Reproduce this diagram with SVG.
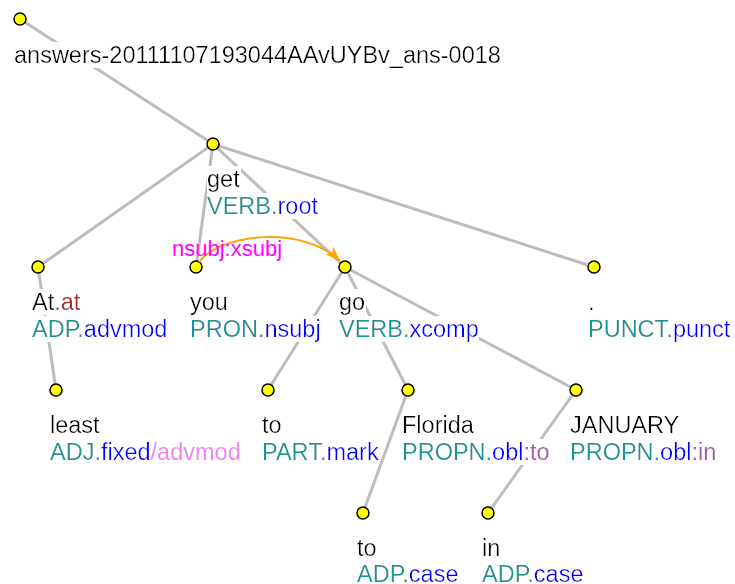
<svg xmlns="http://www.w3.org/2000/svg" width="735" height="584" viewBox="0 0 735 584">
<style>
  .edge { stroke: #bdbdbd; stroke-width: 3; fill: none; }
  .node circle { fill: #ffff00; stroke: #000; stroke-width: 1.5; }
  text { font-family: "Liberation Sans", Arial, sans-serif; font-size: 23.5px; fill: #000; }
  .lbl { filter: url(#bg); }
  .pos { fill: #139393; }
  .rel { fill: #0000ff; }
  .lem { fill: #a52a2a; }
  .sub { fill: #a05aaa; }
  .enh { fill: #ee82ee; }
  .arc { stroke: #ffa500; stroke-width: 2; fill: none; }
  .arclbl { fill: #ff00ff; font-size: 22px; }
</style>
<defs>
  <filter id="bg" x="0" y="0" width="1" height="1">
    <feFlood flood-color="#ffffff" result="w"/>
    <feMerge><feMergeNode in="w"/><feMergeNode in="SourceGraphic"/></feMerge>
  </filter>
  <marker id="arrow" viewBox="0 0 15 11" refX="15" refY="5.5" markerWidth="15" markerHeight="11" markerUnits="userSpaceOnUse" orient="auto">
    <path d="M0,0 L15,5.5 L0,11 L4,5.5 Z" fill="#ffa500"/>
  </marker>
</defs>
<g id="edges">
  <line class="edge" x1="20" y1="19" x2="213" y2="144"/>
  <line class="edge" x1="213" y1="144" x2="38" y2="267"/>
  <line class="edge" x1="213" y1="144" x2="196" y2="267"/>
  <line class="edge" x1="213" y1="144" x2="345" y2="267"/>
  <line class="edge" x1="213" y1="144" x2="594" y2="267"/>
  <line class="edge" x1="38" y1="267" x2="56" y2="390"/>
  <line class="edge" x1="345" y1="267" x2="268" y2="390"/>
  <line class="edge" x1="345" y1="267" x2="408" y2="390"/>
  <line class="edge" x1="345" y1="267" x2="576" y2="390"/>
  <line class="edge" x1="408" y1="390" x2="363" y2="513"/>
  <line class="edge" x1="576" y1="390" x2="488" y2="513"/>
</g>
<g id="n-root" class="node">
  <text class="lbl" x="14" y="63">answers-20111107193044AAvUYBv_ans-0018</text>
  <circle cx="20" cy="19" r="6"/>
</g>
<g id="n-get" class="node">
  <text class="lbl" x="207" y="187">get</text>
  <text class="lbl" x="207" y="214"><tspan class="pos">VERB.</tspan><tspan class="rel">root</tspan></text>
  <circle cx="213" cy="144" r="6"/>
</g>
<g id="n-at" class="node">
  <text class="lbl" x="32" y="310">At<tspan class="lem">.at</tspan></text>
  <text class="lbl" x="32" y="337"><tspan class="pos">ADP.</tspan><tspan class="rel">advmod</tspan></text>
  <circle cx="38" cy="267" r="6"/>
</g>
<g id="n-you" class="node">
  <text class="lbl" x="190" y="310">you</text>
  <text class="lbl" x="190" y="337"><tspan class="pos">PRON.</tspan><tspan class="rel">nsubj</tspan></text>
  <circle cx="196" cy="267" r="6"/>
</g>
<g id="n-go" class="node">
  <text class="lbl" x="339" y="310">go</text>
  <text class="lbl" x="339" y="337"><tspan class="pos">VERB.</tspan><tspan class="rel">xcomp</tspan></text>
  <circle cx="345" cy="267" r="6"/>
</g>
<g id="n-punct" class="node">
  <text class="lbl" x="588" y="310">.</text>
  <text class="lbl" x="588" y="337"><tspan class="pos">PUNCT.</tspan><tspan class="rel">punct</tspan></text>
  <circle cx="594" cy="267" r="6"/>
</g>
<g id="n-least" class="node">
  <text class="lbl" x="50" y="433">least</text>
  <text class="lbl" x="50" y="460"><tspan class="pos">ADJ.</tspan><tspan class="rel">fixed</tspan><tspan class="enh">/advmod</tspan></text>
  <circle cx="56" cy="390" r="6"/>
</g>
<g id="n-to1" class="node">
  <text class="lbl" x="262" y="433">to</text>
  <text class="lbl" x="262" y="460"><tspan class="pos">PART.</tspan><tspan class="rel">mark</tspan></text>
  <circle cx="268" cy="390" r="6"/>
</g>
<g id="n-florida" class="node">
  <text class="lbl" x="402" y="433">Florida</text>
  <text class="lbl" x="402" y="460"><tspan class="pos">PROPN.</tspan><tspan class="rel">obl</tspan><tspan class="sub">:to</tspan></text>
  <circle cx="408" cy="390" r="6"/>
</g>
<g id="n-january" class="node">
  <text class="lbl" x="570" y="433">JANUARY</text>
  <text class="lbl" x="570" y="460"><tspan class="pos">PROPN.</tspan><tspan class="rel">obl</tspan><tspan class="sub">:in</tspan></text>
  <circle cx="576" cy="390" r="6"/>
</g>
<g id="n-to2" class="node">
  <text class="lbl" x="357" y="556">to</text>
  <text class="lbl" x="357" y="582"><tspan class="pos">ADP.</tspan><tspan class="rel">case</tspan></text>
  <circle cx="363" cy="513" r="6"/>
</g>
<g id="n-in" class="node">
  <text class="lbl" x="482" y="556">in</text>
  <text class="lbl" x="482" y="582"><tspan class="pos">ADP.</tspan><tspan class="rel">case</tspan></text>
  <circle cx="488" cy="513" r="6"/>
</g>
<g id="enhanced">
  <path class="arc" d="M199,262 C222,232 305,226 340,261" marker-end="url(#arrow)"/>
  <text class="arclbl" x="172" y="256">nsubj:xsubj</text>
</g>
</svg>
